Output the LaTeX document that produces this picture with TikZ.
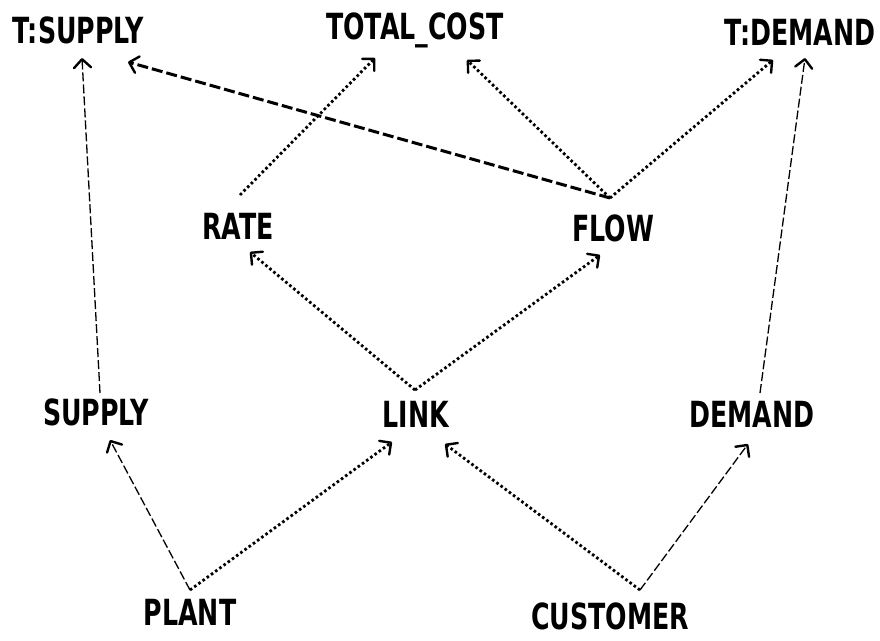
\documentclass[tikz,border=0pt]{standalone}
\usepackage{fontspec}
\newfontfamily\lblfont[FakeStretch=0.78]{DejaVu Sans Condensed Bold}
\usetikzlibrary{arrows.meta}
\tikzset{
  lbl/.style={font=\lblfont\fontsize{36}{38}\selectfont, inner sep=0pt, anchor=center},
  tip/.style={-{Straight Barb[angle=90:12pt, line width=2.4pt, round]}},
  thindash/.style={tip, line width=1.3pt, dash pattern=on 9pt off 3pt},
  dotline/.style={tip, line width=2.8pt, dash pattern=on 2.6pt off 2.6pt},
  thickdash/.style={tip, line width=3pt, dash pattern=on 11pt off 4pt},
}
\begin{document}
\begin{tikzpicture}[x=1pt,y=-1pt]
\useasboundingbox (0,0) rectangle (880,640);
% labels
\node[lbl] (tsupply) at (78,30) {T:SUPPLY};
\node[lbl] (tcost)   at (415,30) {TOTAL\_COST};
\node[lbl] (tdemand) at (800,32) {T:DEMAND};
\node[lbl] (rate)    at (238,226) {RATE};
\node[lbl] (flow)    at (613,228) {FLOW};
\node[lbl] (supply)  at (96,412) {SUPPLY};
\node[lbl] (link)    at (416,414) {LINK};
\node[lbl] (demand)  at (752,414) {DEMAND};
\node[lbl] (plant)   at (190,612) {PLANT};
\node[lbl] (customer) at (610,616) {CUSTOMER};
% connector ends
\coordinate (tsupplyA) at (82,58);
\coordinate (tsupplyB) at (128,62);
\coordinate (tcostA) at (375,58);
\coordinate (tcostB) at (467,60);
\coordinate (tdemandA) at (773,60);
\coordinate (tdemandB) at (805,58);
\coordinate (rateIn) at (250,252);
\coordinate (flowIn) at (600,255);
\coordinate (supplyIn) at (110,440);
\coordinate (linkInA) at (392,442);
\coordinate (linkInB) at (445,444);
\coordinate (demandIn) at (748,444);
\coordinate (rateOut) at (240,195);
\coordinate (flowOut) at (610,198);
\coordinate (supplyOut) at (100,393);
\coordinate (linkOut) at (415,390);
\coordinate (demandOut) at (760,393);
\coordinate (plantOut) at (190,590);
\coordinate (customerOut) at (640,590);
% connectors
\draw[thindash] (supplyOut) -- (tsupplyA);
\draw[thickdash] (flowOut) -- (tsupplyB);
\draw[dotline] (rateOut) -- (tcostA);
\draw[dotline] (flowOut) -- (tcostB);
\draw[dotline] (flowOut) -- (tdemandA);
\draw[thindash] (demandOut) -- (tdemandB);
\draw[dotline] (linkOut) -- (rateIn);
\draw[dotline] (linkOut) -- (flowIn);
\draw[thindash] (plantOut) -- (supplyIn);
\draw[dotline] (plantOut) -- (linkInA);
\draw[dotline] (customerOut) -- (linkInB);
\draw[thindash] (customerOut) -- (demandIn);
\end{tikzpicture}
\end{document}
